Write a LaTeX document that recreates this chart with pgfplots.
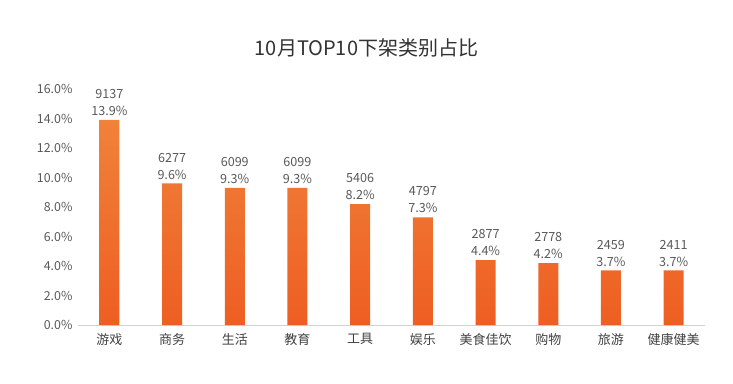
\documentclass[border=0pt]{standalone}
\usepackage{pgfplots}
\pgfplotsset{compat=1.18}
\usepackage{pgfplotstable}
\usepackage{fontspec}
\setmainfont{Noto Sans CJK SC}
\definecolor{txt}{HTML}{595959}
\definecolor{bartop}{HTML}{F0823A}
\definecolor{barbot}{HTML}{EE5E22}
\pgfplotstableread{
x y n
0 13.9 9137
1 9.6 6277
2 9.3 6099
3 9.3 6099
4 8.2 5406
5 7.3 4797
6 4.4 2877
7 4.2 2778
8 3.7 2459
9 3.7 2411
}\datatable
\begin{document}
\begin{tikzpicture}
\path[use as bounding box] (0,0) rectangle (733pt,383pt);
\begin{axis}[
  at={(78pt,58pt)}, anchor=south west,
  scale only axis, width=627pt, height=236pt,
  xmin=-0.5, xmax=9.5, ymin=0, ymax=16,
  axis x line*=bottom, axis y line*=left,
  y axis line style={draw=none},
  x axis line style={draw=black!18, line width=0.8pt},
  tick style={draw=none},
  ytick={0,2,...,16},
  yticklabel={\pgfmathprintnumber[fixed,fixed zerofill,precision=1]{\tick}\%},
  /pgf/number format/assume math mode=true,
  yticklabel style={font=\fontsize{12.4}{14}\selectfont, text=txt, xshift=-2pt},
  xtick=data,
  xticklabels={游戏,商务,生活,教育,工具,娱乐,美食佳饮,购物,旅游,健康健美},
  xticklabel style={font=\fontsize{13}{15}\selectfont, text=black!75, yshift=-5pt},
  clip=false,
]
\addplot[ybar, bar width=20pt, draw=none, top color=bartop, bottom color=barbot,
  point meta=explicit symbolic,
  visualization depends on={y \as \rawy},
  nodes near coords={\pgfplotspointmeta\\\pgfmathprintnumber[fixed,fixed zerofill,precision=1]{\rawy}\%},
  every node near coord/.append style={align=center, font=\fontsize{12.6}{17}\selectfont, text=txt, inner sep=1pt, yshift=3pt},
] table[x=x, y=y, meta=n] {\datatable};
\end{axis}
\node[font=\fontsize{20}{22}\selectfont, text=black!80] at (366.5pt,335pt) {10月TOP10下架类别占比};
\end{tikzpicture}
\end{document}
